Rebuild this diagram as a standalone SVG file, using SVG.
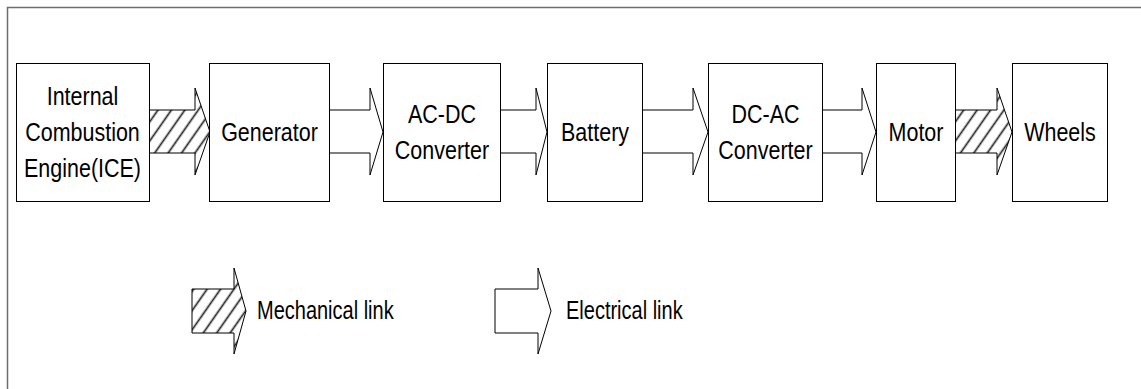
<svg xmlns="http://www.w3.org/2000/svg" width="1141" height="389" viewBox="0 0 1141 389">
<style>
.frame{fill:none;stroke:#6e6e6e;stroke-width:1.5}
.box{fill:#fff;stroke:#000;stroke-width:1}
.el{fill:#fff;stroke:#000;stroke-width:1;stroke-linejoin:miter}
.me{fill:url(#hatch);stroke:#000;stroke-width:1;stroke-linejoin:miter}
.t{font-family:"Liberation Sans",Arial,sans-serif;font-size:25px;fill:#000}
.c{text-anchor:middle}
</style>
<defs>
<pattern id="hatch" patternUnits="userSpaceOnUse" width="11" height="11" patternTransform="rotate(35)">
<rect width="11" height="11" fill="#fff"/>
<line x1="5.5" y1="0" x2="5.5" y2="11" stroke="#222" stroke-width="1.7"/>
</pattern>
</defs>
<rect class="frame" x="7.5" y="7.5" width="1150" height="400"/>
<g id="connectors">
<polygon class="me" points="149,110 195,110 195,88 210,132 195,175 195,153 149,153"/>
<polygon class="el" points="329,110 370,110 370,88 383,132 370,175 370,153 329,153"/>
<polygon class="el" points="500,110 536,110 536,88 547,132 536,175 536,153 500,153"/>
<polygon class="el" points="642,110 693,110 693,88 708,132 693,175 693,153 642,153"/>
<polygon class="el" points="822,110 862,110 862,88 876,132 862,175 862,153 822,153"/>
<polygon class="me" points="955,110 997,110 997,88 1012,132 997,175 997,153 955,153"/>
</g>
<g id="ice">
<rect class="box" x="16.5" y="63.5" width="133" height="138"/>
<text class="t c" transform="matrix(0.86 0 0 1 82.5 0)" x="0" y="105">Internal</text>
<text class="t c" transform="matrix(0.86 0 0 1 82.5 0)" x="0" y="141">Combustion</text>
<text class="t c" transform="matrix(0.86 0 0 1 82.5 0)" x="0" y="177">Engine(ICE)</text>
</g>
<g id="generator">
<rect class="box" x="209.5" y="63.5" width="120" height="138"/>
<text class="t c" transform="matrix(0.86 0 0 1 269.5 0)" x="0" y="141">Generator</text>
</g>
<g id="acdc">
<rect class="box" x="383.5" y="63.5" width="117" height="138"/>
<text class="t c" transform="matrix(0.86 0 0 1 442 0)" x="0" y="123">AC-DC</text>
<text class="t c" transform="matrix(0.86 0 0 1 442 0)" x="0" y="159">Converter</text>
</g>
<g id="battery">
<rect class="box" x="547.5" y="63.5" width="95" height="138"/>
<text class="t c" transform="matrix(0.86 0 0 1 595 0)" x="0" y="141">Battery</text>
</g>
<g id="dcac">
<rect class="box" x="708.5" y="63.5" width="114" height="138"/>
<text class="t c" transform="matrix(0.86 0 0 1 765.5 0)" x="0" y="123">DC-AC</text>
<text class="t c" transform="matrix(0.86 0 0 1 765.5 0)" x="0" y="159">Converter</text>
</g>
<g id="motor">
<rect class="box" x="876.5" y="63.5" width="79" height="138"/>
<text class="t c" transform="matrix(0.86 0 0 1 916 0)" x="0" y="141">Motor</text>
</g>
<g id="wheels">
<rect class="box" x="1012.5" y="63.5" width="95" height="138"/>
<text class="t c" transform="matrix(0.86 0 0 1 1060 0)" x="0" y="141">Wheels</text>
</g>
<g id="legend-mechanical">
<polygon class="me" points="192,289 234,289 234,268 246,311 234,354 234,333 192,333"/>
<text class="t" transform="matrix(0.8 0 0 1 257 0)" x="0" y="319">Mechanical link</text>
</g>
<g id="legend-electrical">
<polygon class="el" points="495,289 538,289 538,268 551,311 538,354 538,333 495,333"/>
<text class="t" transform="matrix(0.8 0 0 1 566 0)" x="0" y="319">Electrical link</text>
</g>
</svg>
